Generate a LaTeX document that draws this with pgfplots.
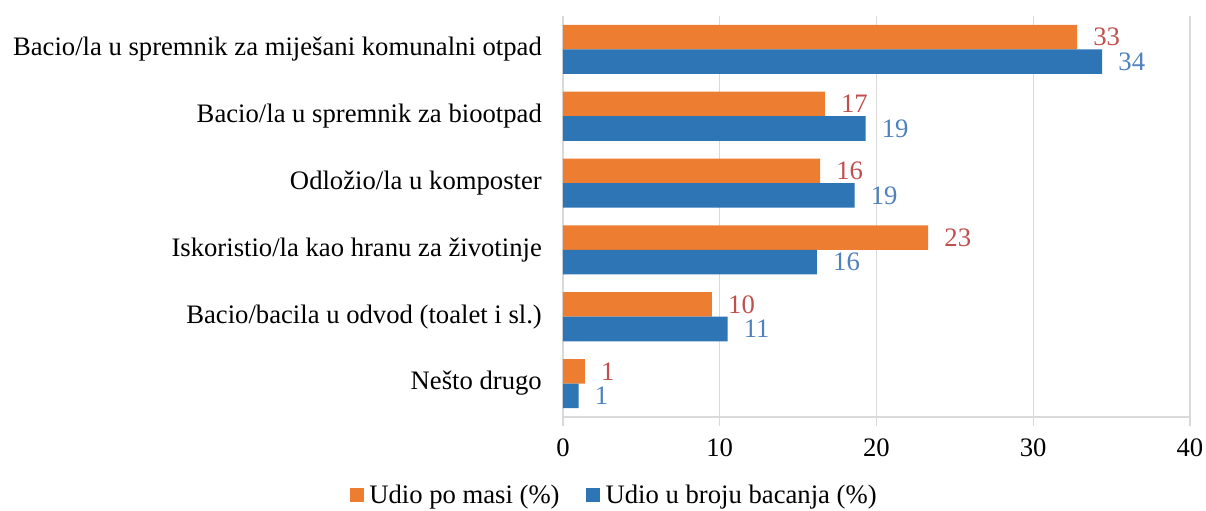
\documentclass[border=0pt]{standalone}
\usepackage{fontspec}
\setmainfont{Liberation Serif}
\usepackage{pgfplots}
\pgfplotsset{compat=1.18}
\definecolor{barorange}{HTML}{ED7D31}
\definecolor{barblue}{HTML}{2E75B6}
\definecolor{lblred}{HTML}{C0504D}
\definecolor{lblblue}{HTML}{4F81BD}
\definecolor{gridgray}{HTML}{D9D9D9}

\begin{document}
\begin{tikzpicture}[x=0.75pt,y=0.75pt]
\begin{axis}[
    name=main,
    scale only axis,
    width=470.25pt, height=300.75pt,
    xbar, bar width=18.4pt,
    xmin=0, xmax=40, ymin=-0.5, ymax=5.5,
    xtick={0,10,20,30,40},
    ytick={0,1,2,3,4,5},
    yticklabels={Nešto drugo,Bacio/bacila u odvod (toalet i sl.),Iskoristio/la kao hranu za životinje,Odložio/la u komposter,Bacio/la u spremnik za biootpad,Bacio/la u spremnik za miješani komunalni otpad},
    axis x line*=bottom, axis y line*=left,
    axis line style={gridgray, line width=1pt, -},
    xmajorgrids, grid style={gridgray, line width=1pt},
    x tick style={gridgray, line width=1pt},
    major tick length=6.75pt,
    tick align=outside,
    y tick style={draw=none},
    tick label style={font=\fontsize{20}{22}\selectfont, text=black},
    yticklabel style={xshift=-5.6pt},
    xticklabel style={yshift=-6pt},
    /pgf/number format/assume math mode=true,
    point meta=explicit symbolic,
    nodes near coords,
    nodes near coords style={anchor=west, inner sep=0pt, xshift=12pt, font=\fontsize{20}{22}\selectfont},
    legend style={at={(0.0845,-0.1945)}, anchor=center, legend columns=2, draw=none,
        font=\fontsize{20}{22}\selectfont, inner sep=0pt,
        nodes={inner xsep=4pt},
        /tikz/every even column/.append style={column sep=16pt}},
    legend image code/.code={\fill[#1] (0pt,-5pt) rectangle (10.5pt,5.5pt);},
]
\addplot[fill=barorange, draw=none, bar shift=9.2pt,
    every node near coord/.append style={text=lblred}] coordinates {
    (32.8,5) [33] (16.7,4) [17] (16.4,3) [16] (23.3,2) [23] (9.5,1) [10] (1.4,0) [1]
};
\addplot[fill=barblue, draw=none, bar shift=-9.2pt,
    every node near coord/.append style={text=lblblue}] coordinates {
    (34.4,5) [34] (19.3,4) [19] (18.6,3) [19] (16.2,2) [16] (10.5,1) [11] (1.0,0) [1]
};
\legend{Udio po masi (\%),Udio u broju bacanja (\%)}
\end{axis}
\pgfresetboundingbox
\path[use as bounding box] ([xshift=-422.25pt,yshift=-70.5pt]main.south west) rectangle ([xshift=12pt,yshift=12pt]main.north east);
\end{tikzpicture}
\end{document}
